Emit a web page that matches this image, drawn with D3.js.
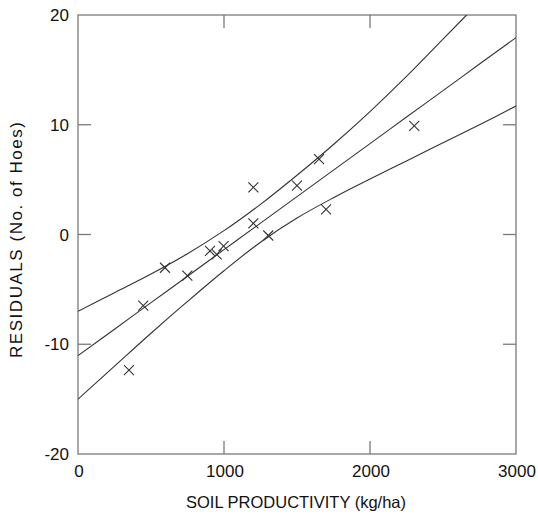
<!DOCTYPE html>
<html>
<head>
<meta charset="utf-8">
<script src="https://cdn.jsdelivr.net/npm/d3@7"></script>
<style>
  html, body { margin: 0; padding: 0; background: #fff; }
  svg { display: block; }
  text { font-family: "Liberation Sans", Arial, Helvetica, sans-serif; fill: #111; }
</style>
</head>
<body>
<svg id="chart" width="538" height="515"></svg>
<script>
// Observed residual points (soil productivity kg/ha, residual no. of hoes)
const productivity = [349, 447, 596, 749, 904, 950, 997, 1201, 1201, 1303, 1500, 1651, 1699, 2303];
const residuals    = [-12.35, -6.49, -3.03, -3.75, -1.50, -1.82, -1.05, 4.30, 1.02, -0.09, 4.45, 6.86, 2.28, 9.89];

// Fitted line and confidence band
const bandX     = [0, 250, 500, 750, 1000, 1250, 1500, 1750, 2000, 2250, 2500, 2750, 3000];
const fitLine   = [-11.04, -8.63, -6.21, -3.80, -1.38, 1.04, 3.45, 5.87, 8.28, 10.70, 13.11, 15.53, 17.94];
const upperBand = [-7.0, -5.3, -3.6, -1.75, 0.35, 2.75, 5.4, 8.2, 11.2, 14.4, 17.8, 21.2, 24.6];
const lowerBand = [-15.0, -12.0, -9.0, -6.1, -3.3, -0.7, 1.5, 3.35, 5.05, 6.7, 8.35, 10.0, 11.7];

// Tick labels
const xTicks = [0, 1000, 2000, 3000];
const yTicks = [-20, -10, 0, 10, 20];
const xLabel = "SOIL PRODUCTIVITY (kg/ha)";
const yLabel = "RESIDUALS (No. of Hoes)";

const svg = d3.select("#chart");
const L = 78, R = 516, T = 15, B = 454;

const x = d3.scaleLinear().domain([0, 3000]).range([L, R]);
const y = d3.scaleLinear().domain([-20, 20]).range([B, T]);

svg.append("defs").append("clipPath").attr("id", "clip")
  .append("rect").attr("x", L).attr("y", T).attr("width", R - L).attr("height", B - T);

const tickLen = 13;
const frameColor = "#7a7a7a";

// Inner ticks
const innerX = xTicks.filter(v => v > 0 && v < 3000);
const innerY = yTicks.filter(v => v > -20 && v < 20);
const tickG = svg.append("g").attr("stroke", frameColor).attr("stroke-width", 1.3);
innerX.forEach(v => {
  tickG.append("line").attr("x1", x(v)).attr("x2", x(v)).attr("y1", B).attr("y2", B - tickLen);
  tickG.append("line").attr("x1", x(v)).attr("x2", x(v)).attr("y1", T).attr("y2", T + tickLen);
});
innerY.forEach(v => {
  tickG.append("line").attr("x1", L).attr("x2", L + tickLen).attr("y1", y(v)).attr("y2", y(v));
  tickG.append("line").attr("x1", R).attr("x2", R - tickLen).attr("y1", y(v)).attr("y2", y(v));
});

// Frame
svg.append("rect").attr("x", L).attr("y", T).attr("width", R - L).attr("height", B - T)
  .attr("fill", "none").attr("stroke", frameColor).attr("stroke-width", 1.3);

// Tick labels
svg.append("g").selectAll("text").data(xTicks).join("text")
  .attr("x", d => x(d) + 1).attr("y", B + 23)
  .attr("text-anchor", "middle").attr("font-size", 17)
  .text(d => d);
svg.append("g").selectAll("text").data(yTicks).join("text")
  .attr("x", L - 9).attr("y", d => y(d)).attr("dy", "0.36em")
  .attr("text-anchor", "end").attr("font-size", 17)
  .text(d => d);

// Axis titles
svg.append("text").attr("x", 296).attr("y", 508)
  .attr("text-anchor", "middle").attr("font-size", 16.5).text(xLabel);
svg.append("text").attr("transform", `translate(22,240) rotate(-90)`)
  .attr("text-anchor", "middle").attr("font-size", 17)
  .attr("textLength", 236).attr("lengthAdjust", "spacing")
  .text(yLabel);

// Lines
const line = d3.line().curve(d3.curveCatmullRom)
  .x(d => x(d[0])).y(d => y(d[1]));
const g = svg.append("g").attr("clip-path", "url(#clip)");
[upperBand, fitLine, lowerBand].forEach(arr => {
  g.append("path")
    .datum(bandX.map((v, i) => [v, arr[i]]))
    .attr("d", line)
    .attr("fill", "none").attr("stroke", "#333").attr("stroke-width", 1.1);
});

// X markers
const s = 5;
const pts = productivity.map((v, i) => [v, residuals[i]]);
const mk = svg.append("g").attr("stroke", "#333").attr("stroke-width", 1.1);
pts.forEach(p => {
  const cx = x(p[0]), cy = y(p[1]);
  mk.append("line").attr("x1", cx - s).attr("y1", cy - s).attr("x2", cx + s).attr("y2", cy + s);
  mk.append("line").attr("x1", cx - s).attr("y1", cy + s).attr("x2", cx + s).attr("y2", cy - s);
});
</script>
</body>
</html>
